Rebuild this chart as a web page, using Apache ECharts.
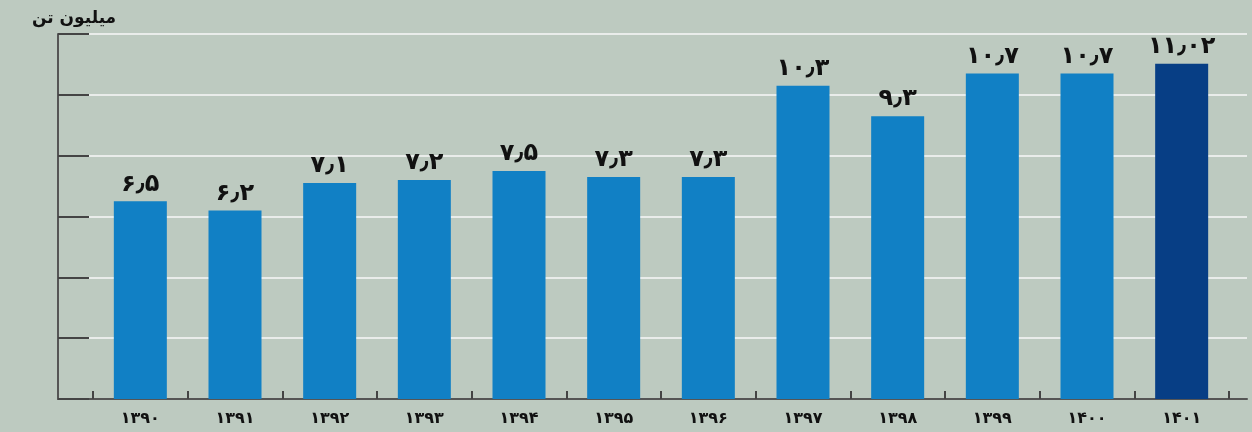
<!DOCTYPE html>
<html><head><meta charset="utf-8">
<script src="https://cdn.jsdelivr.net/npm/echarts@6/dist/echarts.min.js"></script>
<style>html,body{margin:0;padding:0;background:#bdcac0;}#c{width:1252px;height:432px;}</style>
</head><body><div id="c"></div>
<script>
var categories = ['1390','1391','1392','1393','1394','1395','1396','1397','1398','1399','1400','1401'];
var values = [6.5, 6.2, 7.1, 7.2, 7.5, 7.3, 7.3, 10.3, 9.3, 10.7, 10.7, 11.02];
var highlightIndex = 11;
var unitTitle = 'میلیون تن';

function toFa(s){
  var d='۰۱۲۳۴۵۶۷۸۹';
  return String(s).replace(/[0-9]/g,function(c){return d[+c];}).replace('.', '٫');
}
var font = '"DejaVu Sans", sans-serif';
var chart = echarts.init(document.getElementById('c'));
chart.setOption({
  backgroundColor:'#bdcac0',
  animation:false,
  title:{text:unitTitle,left:27,top:5,textStyle:{fontFamily:font,fontWeight:'bold',fontSize:17,color:'#111'}},
  grid:[
    {left:58,right:5,top:34,bottom:33},
    {left:93,right:23,top:34,bottom:33}
  ],
  xAxis:[
    {gridIndex:0,type:'value',min:0,max:1,axisLine:{show:true,lineStyle:{color:'#555',width:2}},axisTick:{show:false},axisLabel:{show:false},splitLine:{show:false}},
    {gridIndex:1,type:'category',data:categories.map(toFa),axisLine:{show:false},
     axisTick:{show:true,inside:true,length:8,lineStyle:{color:'#444',width:2}},
     axisLabel:{fontFamily:font,fontWeight:'bold',fontSize:16,color:'#111',margin:12}}
  ],
  yAxis:[
    {gridIndex:0,type:'value',min:0,max:12,interval:2,axisLine:{show:true,lineStyle:{color:'#555',width:2}},
     axisTick:{show:true,inside:true,length:31,lineStyle:{color:'#444',width:2}},axisLabel:{show:false},
     splitLine:{show:true,lineStyle:{color:'#e9ecea',width:2}}},
    {gridIndex:1,type:'value',min:0,max:12,interval:2,axisLine:{show:false},axisTick:{show:false},axisLabel:{show:false},splitLine:{show:false}}
  ],
  series:[{
    type:'bar',xAxisIndex:1,yAxisIndex:1,barWidth:53,
    data:values.map(function(v,i){return {value:v,itemStyle:{color:i===highlightIndex?'#073e85':'#1180c5'}};}),
    label:{show:true,position:'top',distance:5,fontFamily:font,fontWeight:'bold',fontSize:24,color:'#111',
      formatter:function(p){return toFa(p.value);}}
  }]
});
</script></body></html>
